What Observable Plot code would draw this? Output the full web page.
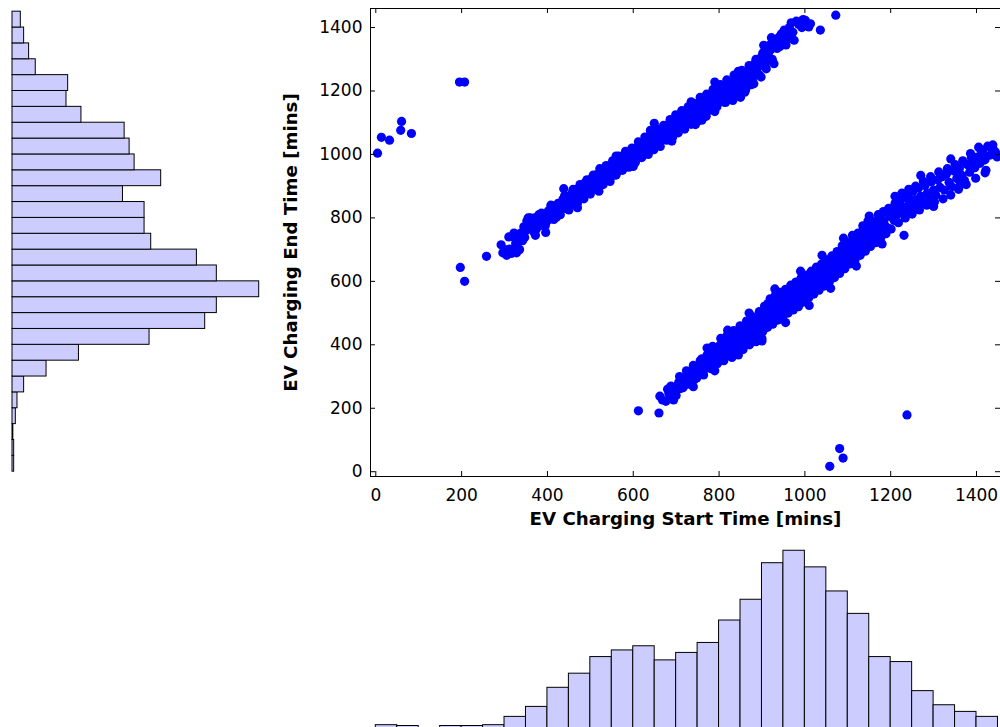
<!DOCTYPE html>
<html><head><meta charset="utf-8">
<script src="https://cdn.jsdelivr.net/npm/d3@7"></script>
<script src="https://cdn.jsdelivr.net/npm/@observablehq/plot@0.6"></script>
<style>
html,body{margin:0;padding:0;background:#fff;overflow:hidden;}
#wrap{position:relative;width:1000px;height:727px;overflow:hidden;background:#fff;}
#wrap > svg{position:absolute;}
</style></head><body><div id="wrap"></div>
<script>
// ---------- texts & ticks ----------
const xTitle = "EV Charging Start Time [mins]";
const yTitle = "EV Charging End Time [mins]";
const xTicks = [0, 200, 400, 600, 800, 1000, 1200, 1400];
const yTicks = [0, 200, 400, 600, 800, 1000, 1200, 1400];

// ---------- histogram bins (50-minute bins) ----------
const binStarts = [0,50,100,150,200,250,300,350,400,450,500,550,600,650,700,750,800,850,900,950,1000,1050,1100,1150,1200,1250,1300,1350,1400];
const binWidth = 50;
const startCounts = [4,3,0,3,3,4,14,26,49,66,86,94,99,82,91,103,130,155,199,214,194,165,138,86,80,45,28,20,14];
const endCounts   = [2,2,1,4,6,14,41,80,165,232,246,297,246,222,167,159,159,133,179,147,141,135,83,65,67,28,20,14,10];

// ---------- scatter: [start, end] ----------
const sameDay = [
[292,715],[296,690],[301,700],[305,682],[312,702],[316,688],[318,742],[322,752],[326,720],[330,708],[333,738],[338,752],[342,728],[345,772],[347,738],[352,790],[356,768],[360,800],[365,780],[368,756],[370,800],[374,764],[378,786],[383,800],[388,776],[392,812],[396,754],[398,788],[402,822],[405,796],
[410,810],[413,838],[418,826],[421,802],[425,846],[428,820],[432,838],[436,858],[438,892],[441,830],[445,852],[448,868],[452,840],[455,862],[458,880],[462,852],[465,872],[468,890],[471,860],[474,880],[478,898],[481,868],[484,888],[487,910],[490,876],[493,896],[496,918],[499,884],[502,904],[505,928],[508,892],
[511,916],[514,936],[517,900],[520,922],[523,944],[526,908],[529,930],[532,952],[535,918],[538,940],[541,960],[544,926],[547,948],[550,968],[553,934],[556,956],[559,976],[562,944],[565,964],[568,986],[571,952],[574,974],[577,994],[580,960],[583,982],[586,1002],[589,968],[592,990],[595,1010],[598,976],[601,998],
[604,1018],[607,984],[610,1006],[613,1028],[616,994],[619,1016],[622,1036],[625,1002],[628,1024],[631,1046],[634,1010],[637,1032],[640,1054],[643,1020],[646,1040],[649,1098],[652,1030],[655,1050],[658,1070],[661,1036],[664,1060],[667,1082],[670,1046],[673,1068],[676,1090],[679,1054],[682,1076],[685,1100],[688,1062],[691,1084],[694,1108],[697,1072],[700,1094],
[703,1116],[706,1080],[709,1102],[712,1126],[715,1090],[718,1112],[721,1134],[724,1098],[727,1120],[730,1140],[733,1106],[736,1128],[739,1150],[742,1114],[745,1136],[748,1160],[751,1120],[754,1144],[757,1168],[760,1130],[764,1152],[768,1176],[772,1138],[776,1160],[780,1184],[784,1150],[788,1172],[792,1196],[796,1160],[800,1182],[745,1094],[760,1108],[790,1135],
[804,1206],[808,1170],[812,1194],[816,1218],[820,1180],[824,1204],[828,1228],[832,1192],[836,1214],[840,1240],[844,1202],[848,1226],[852,1250],[856,1216],[860,1238],[864,1222],[868,1260],[872,1240],[876,1272],[880,1256],[884,1288],[888,1264],[892,1296],[896,1280],[900,1310],[832,1170],[850,1180],[875,1220],[881,1223],
[904,1344],[908,1286],[912,1300],[916,1322],[920,1330],[925,1350],[928,1286],[930,1362],[935,1334],[940,1370],[945,1380],[947,1365],[952,1392],[958,1360],[962,1385],[966,1381],[968,1415],[975,1360],[985,1410],[990,1407],[996,1425],[1001,1423],[1009,1402],[1013,1412],[1036,1392],[1072,1439]
];
const sameDaySpread = [
[335,700],[350,760],[362,770],[380,810],[395,775],[408,840],[415,795],[430,810],[440,870],[450,825],[460,890],[470,845],[476,905],[485,860],[492,920],[500,875],[507,935],[515,890],[522,955],[530,905],[537,965],[546,915],[552,980],[560,935],[566,995],[575,950],[582,1010],[590,960],[597,1020],[605,975],
[612,1040],[620,990],[627,1055],[635,1000],[641,1068],[648,1015],[657,1080],[663,1025],[671,1092],[678,1045],[686,1110],[692,1055],[699,1125],[705,1068],[713,1138],[720,1080],[728,1150],[735,1095],[741,1160],[750,1105],[756,1180],[765,1125],[771,1190],[779,1140],[786,1205],[795,1150],[803,1220],[811,1165],[818,1235],[826,1180],
[835,1250],[842,1195],[853,1265],[862,1205],[870,1280],[878,1240],[886,1300],[894,1250],[902,1320],[910,1270],[918,1345],[924,1300],[933,1355],[942,1340],[950,1375],[956,1345],[964,1400],[972,1385],[980,1420],[993,1400]
];
const sameDayEdge = [
[310,740],[328,690],[355,800],[372,745],[386,815],[470,832],[520,884],[560,995],[600,962],[640,1076],[690,1042],[735,1166],[770,1120],[790,1228],[815,1164],[845,1262],[860,1196],[898,1244],[905,1302],[922,1368]
];
const nextDay = [
[662,238],[668,226],[676,222],[683,246],[690,236],[694,226],[697,258],[702,268],[706,282],[710,262],[714,296],[718,286],[722,300],[726,276],[730,310],[734,296],[738,318],[742,290],[746,322],[750,306],[754,334],[758,316],[762,340],[766,324],[770,352],[772,390],[774,334],[778,362],[782,344],[786,372],[790,350],
[794,382],[797,360],[800,396],[803,374],[806,404],[809,384],[812,364],[815,412],[818,392],[821,372],[824,420],[827,398],[830,380],[833,428],[836,406],[839,388],[842,436],[845,414],[848,396],[851,444],[854,422],[857,404],[860,452],[863,430],[866,410],[869,460],[872,438],[875,418],[878,468],[881,446],[884,426],[887,476],[890,454],[893,434],[896,484],[899,462],[902,442],[800,350],[830,360],[785,395],
[905,470],[908,512],[911,492],[914,530],[917,478],[920,516],[923,498],[926,540],[929,486],[932,524],[935,506],[938,548],[941,494],[944,532],[947,514],[950,556],[953,504],[956,540],[959,522],[962,564],[965,512],[968,550],[971,532],[974,574],[977,520],[980,558],[983,540],[986,582],[989,530],[992,568],[995,550],[998,592],[1001,540],[1004,578],[1007,560],[1010,600],
[1013,568],[1016,608],[1019,590],[1022,630],[1025,580],[1028,618],[1031,600],[1034,642],[1037,592],[1040,630],[1043,612],[1046,654],[1049,604],[1052,642],[1055,624],[1058,666],[1061,616],[1064,654],[1067,636],[1070,678],[1073,628],[1076,666],[1079,648],[1082,690],[1085,640],[1088,678],[1091,660],[1094,702],[1097,652],[1100,690],
[1103,674],[1106,718],[1109,698],[1112,738],[1115,686],[1118,726],[1121,710],[1124,752],[1127,698],[1130,738],[1133,722],[1136,764],[1139,712],[1142,752],[1145,734],[1148,776],[1151,726],[1154,764],[1157,746],[1160,788],[1164,738],[1168,778],[1172,760],[1176,802],[1180,752],[1184,790],[1188,774],[1192,816],[1196,766],[1200,804],
[1204,822],[1208,792],[1212,834],[1216,812],[1220,848],[1224,822],[1228,862],[1232,834],[1236,812],[1240,872],[1244,848],[1248,830],[1252,884],[1256,858],[1260,840],[1265,894],[1270,868],[1275,848],[1280,902],[1285,878],[1290,860],[1295,914],[1300,888],[1231,745],[1238,871],
[1305,872],[1310,920],[1315,896],[1320,930],[1325,888],[1330,938],[1336,912],[1342,898],[1348,948],[1354,924],[1360,956],[1366,934],[1372,918],[1378,968],[1384,944],[1390,978],[1396,958],[1402,992],[1408,972],[1414,1008],[1420,984],[1426,1026],[1432,998],[1438,1030],[1444,1008],[1448,992],[1405,1023],[1386,1003],[1440,1013],[1417,982],[1394,971]
];
const nextDaySpread = [
[680,260],[688,270],[700,240],[708,300],[716,265],[724,318],[732,280],[740,335],[748,295],[756,350],[764,305],[772,368],[780,325],[788,390],[796,340],[804,420],[811,350],[819,430],[826,365],[834,445],[841,375],[849,460],[856,385],[864,475],[871,400],[879,488],[886,410],[894,505],[900,420],[906,522],
[913,455],[919,545],[925,465],[931,555],[937,478],[943,565],[949,490],[955,575],[961,500],[967,588],[973,510],[979,598],[985,520],[991,610],[997,535],[1003,620],[1009,548],[1015,632],[1021,560],[1027,645],[1033,572],[1039,655],[1045,585],[1051,668],[1057,598],[1063,680],[1069,612],[1075,694],[1081,625],[1087,712],
[1093,640],[1099,722],[1105,655],[1111,745],[1117,668],[1123,735],[1129,682],[1135,775],[1141,695],[1147,790],[1153,710],[1159,770],[1165,722],[1171,810],[1177,738],[1183,820],[1189,750],[1195,830],[1201,765],[1210,845],[1218,785],[1226,878],[1234,800],[1242,890],[1250,812],[1258,900],[1267,825],[1276,915],[1284,840],[1293,930],
[1302,850],[1312,945],[1322,860],[1332,955],[1340,872],[1350,968],[1358,890],[1368,980],[1376,905],[1388,990],[1398,925],[1410,1015],[1422,950],[1434,1020],[1446,1000]
];
const nextDayEdge = [
[740,268],[760,356],[790,318],[820,446],[845,368],[870,500],[900,412],[930,576],[955,470],[990,632],[1010,524],[1040,682],[1060,578],[1090,736],[1120,648],[1150,806],[1180,718],[1210,868],[1270,934],[1300,836],[1340,986],[1360,900],[1420,942]
];
const strays = [
[4,1004],[13,1054],[32,1045],[58,1076],[60,1104],[83,1066],[195,1228],[207,1228],[197,644],[207,600],[258,679],
[612,192],[660,185],[1058,17],[1081,73],[1089,43],[1238,179]
];

// ---------- layout constants ----------
const FONT = "DejaVu Sans";
const xDomain = [-12.35, 1455.9];
const yDomain = [-15.1, 1460];
const W = 1000, scatterH = 540, mTop = 8, mBot = 64, mLeft = 370;
const frameW = W - mLeft, frameH = scatterH - mTop - mBot;
const pxPerCount = 0.8306;
const barFill = "#ccccff";
const baseStyle = {fontFamily: FONT, fontSize: "17px", background: "transparent", color: "#000", overflow: "visible"};

const points = [...sameDay, ...sameDaySpread, ...sameDayEdge, ...nextDay, ...nextDaySpread, ...nextDayEdge, ...strays]
  .map(([s, e]) => ({start: s, end: e}));
const endBins = binStarts.map((b, i) => ({lo: b, hi: b + binWidth, count: endCounts[i]}));
const startBins = binStarts.map((b, i) => ({lo: b, hi: b + binWidth, count: startCounts[i]}));

const wrap = document.getElementById("wrap");

// ---------- scatter ----------
const scatter = Plot.plot({
  width: W, height: scatterH,
  marginLeft: mLeft, marginRight: 0, marginTop: mTop, marginBottom: mBot,
  x: {domain: xDomain, axis: null},
  y: {domain: yDomain, axis: null},
  style: baseStyle,
  marks: [
    Plot.dot(points, {x: "start", y: "end", r: 4.6, fill: "#0000ff"}),
    Plot.ruleX([xDomain[0]], {stroke: "#000"}),
    Plot.ruleY([yDomain[0]], {stroke: "#000"}),
    Plot.ruleY([yDomain[1]], {stroke: "#000"}),
    Plot.tickX(xTicks, {x: d => d, insetTop: frameH - 5, stroke: "#000"}),
    Plot.tickX(xTicks, {x: d => d, insetBottom: frameH - 5, stroke: "#000"}),
    Plot.tickY(yTicks, {y: d => d, insetRight: frameW - 5, stroke: "#000"}),
    Plot.tickY(yTicks, {y: d => d, insetLeft: frameW - 5, stroke: "#000"}),
    Plot.text(xTicks, {x: d => d, frameAnchor: "bottom", lineAnchor: "bottom", dy: 24, text: d => String(d), fontSize: 17, fill: "#000"}),
    Plot.text(yTicks, {y: d => d, frameAnchor: "left", textAnchor: "end", dx: -8, text: d => String(d), fontSize: 17, fill: "#000"}),
    Plot.text([xTitle], {frameAnchor: "bottom", lineAnchor: "bottom", dy: 48.7, text: d => d, fontWeight: "bold", fontSize: 18.2, fill: "#000"}),
    Plot.text([yTitle], {frameAnchor: "left", rotate: -90, textAnchor: "middle", lineAnchor: "bottom", dx: -74, text: d => d, fontWeight: "bold", fontSize: 18.2, fill: "#000"})
  ]
});
scatter.style.left = "0px"; scatter.style.top = "0px";

// ---------- left histogram (end times) ----------
const leftW = 270, leftML = 12;
const leftHist = Plot.plot({
  width: leftW, height: scatterH,
  marginLeft: leftML, marginRight: leftW - leftML - 300 * pxPerCount, marginTop: mTop, marginBottom: mBot,
  x: {domain: [0, 300], axis: null},
  y: {domain: yDomain, axis: null},
  style: baseStyle,
  marks: [
    Plot.rectX(endBins, {x: "count", y1: "lo", y2: "hi", fill: barFill, stroke: "#000", strokeWidth: 1, inset: 0})
  ]
});
leftHist.style.left = "0px"; leftHist.style.top = "0px";

// ---------- bottom histogram (start times) ----------
const botH = 188;
const bottomHist = Plot.plot({
  width: W, height: botH,
  marginLeft: mLeft, marginRight: 0, marginTop: botH - 220 * pxPerCount, marginBottom: 0,
  x: {domain: xDomain, axis: null},
  y: {domain: [0, 220], axis: null},
  style: baseStyle,
  marks: [
    Plot.rectY(startBins, {x1: "lo", x2: "hi", y: "count", fill: barFill, stroke: "#000", strokeWidth: 1, inset: 0})
  ]
});
bottomHist.style.left = "0px"; bottomHist.style.top = scatterH + "px";

wrap.appendChild(leftHist);
wrap.appendChild(bottomHist);
wrap.appendChild(scatter);
</script>
</body></html>
